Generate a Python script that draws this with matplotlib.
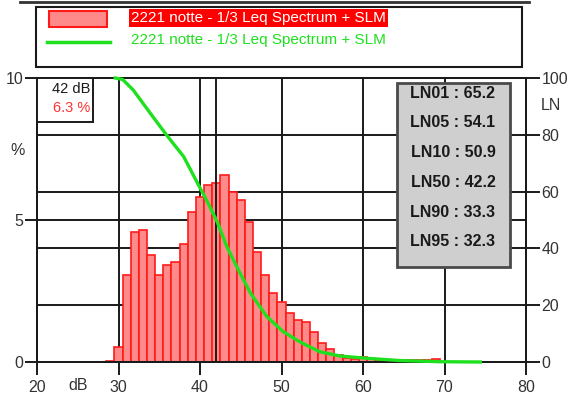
import matplotlib
matplotlib.use('Agg')
import matplotlib.pyplot as plt
from matplotlib.patches import Rectangle
from matplotlib.lines import Line2D

plt.rcParams['font.family'] = ['Liberation Sans', 'DejaVu Sans']

# 1/3 octave level distribution (% of time per 1 dB class)
levels = list(range(29, 70))
percent = [0.03, 0.54, 3.06, 4.59, 4.65, 3.77, 3.06, 3.42, 3.53, 4.15,
           5.29, 5.82, 6.23, 6.3, 6.58, 6.0, 5.70, 4.94, 3.88, 3.06,
           2.44, 2.12, 1.74, 1.48, 1.40, 1.07, 0.68, 0.45, 0.25, 0.15,
           0.12, 0.18, 0.10, 0.08, 0.08, 0.07, 0.07, 0.07, 0.08, 0.08, 0.10]

# cumulative exceedance curve (LN)
cum_db = [29.6, 30.5, 31.8, 33.9, 35.9, 38.0, 39.6, 40.8, 42.1, 43.3, 44.5,
          46.2, 48.2, 50.2, 52.3, 54.7, 57.2, 60.5, 64.6, 69.5, 74.4]
cum_ln = [100, 99.5, 95.8, 87.6, 79.9, 72.3, 63.5, 57.0, 49.4, 40.6, 33.6,
          24.2, 16.0, 10.7, 7.0, 3.6, 2.1, 1.3, 0.5, 0.1, 0]

ln_names = ['LN01', 'LN05', 'LN10', 'LN50', 'LN90', 'LN95']
ln_values = [65.2, 54.1, 50.9, 42.2, 33.3, 32.3]

cursor_db = 42
cursor_pct = 6.3

x_ticks = [20, 30, 40, 50, 60, 70, 80]
pct_ticks = [0, 5, 10]
ln_ticks = [0, 20, 40, 60, 80, 100]
series_label = '2221 notte - 1/3 Leq Spectrum + SLM'

W, H = 569, 398
fig = plt.figure(figsize=(W / 100, H / 100), dpi=100)


def fx(px):
    return px / W


def fy(py):
    return 1 - py / H


ink = '#1a1a1a'
txt = '#333333'
bar_fill = '#ff8a8a'
bar_edge = '#ff1a1a'
green = '#1ee01e'

ax = fig.add_axes([fx(37), fy(362), fx(526) - fx(37), fy(78) - fy(362)])
ax.set_xlim(20, 80)
ax.set_ylim(0, 10)
ax2 = ax.twinx()
ax2.set_ylim(0, 100)

ax.bar(levels, percent, width=1.0, color=bar_fill, edgecolor=bar_edge,
       linewidth=1.2, zorder=2)
ax.axvline(cursor_db, color=ink, linewidth=1.4, zorder=3)
ax2.plot(cum_db, cum_ln, color=green, linewidth=2.4, zorder=3, clip_on=False)

ax.set_xticks(x_ticks)
ax.set_yticks(pct_ticks)
ax.set_yticks([2, 4, 6, 8], minor=True)
ax.set_axisbelow(True)
ax.grid(True, which='both', color=ink, linewidth=1.4)
ax.tick_params(which='minor', length=0)
ax.tick_params(which='major', direction='out', length=9, width=1.4,
               color=ink, labelsize=11.5, labelcolor=txt)
ax.tick_params(axis='x', pad=4)
ax.tick_params(axis='y', pad=1)

ax2.set_yticks(ln_ticks)
ax2.tick_params(axis='y', direction='out', length=10, width=1.4, pad=1,
                color=ink, labelsize=11.5, labelcolor=txt)

for a in (ax, ax2):
    for s in a.spines.values():
        s.set_color(ink)
        s.set_linewidth(1.4)

# axis captions
fig.text(fx(17.5), fy(151), '%', ha='center', va='center', fontsize=11.5, color=txt)
fig.text(fx(551), fy(106), 'LN', ha='center', va='center', fontsize=11.5, color=txt)
fig.text(fx(78.5), fy(386), 'dB', ha='center', va='center', fontsize=11.5, color=txt)

# cursor readout
fig.add_artist(Rectangle((fx(37), fy(122)), fx(93) - fx(37), fy(78) - fy(122),
                         transform=fig.transFigure, facecolor='white',
                         edgecolor=ink, linewidth=1.4))
fig.text(fx(90), fy(89), f'{cursor_db} dB', ha='right', va='center',
         fontsize=10.5, color=ink)
fig.text(fx(90), fy(108), f'{cursor_pct} %', ha='right', va='center',
         fontsize=10.5, color='#ff3030')

# statistical levels box
fig.add_artist(Rectangle((fx(397), fy(267)), fx(510) - fx(397), fy(83) - fy(267),
                         transform=fig.transFigure, facecolor='#cfcfcf',
                         edgecolor='#4a4a4a', linewidth=2))
for i, (name, val) in enumerate(zip(ln_names, ln_values)):
    fig.text(fx(453), fy(93 + 29.8 * i), f'{name} : {val}', ha='center',
             va='center', fontsize=11.5, fontweight='bold', color=ink)

# legend
fig.add_artist(Line2D([fx(20), fx(529)], [fy(1.5), fy(1.5)], transform=fig.transFigure,
                      color='#333333', linewidth=2))
fig.add_artist(Rectangle((fx(36), fy(66.7)), fx(522) - fx(36), fy(6.7) - fy(66.7),
                         transform=fig.transFigure, facecolor='white',
                         edgecolor=ink, linewidth=1.5))
fig.add_artist(Rectangle((fx(49), fy(27)), fx(107) - fx(49), fy(11) - fy(27),
                         transform=fig.transFigure, facecolor=bar_fill,
                         edgecolor=bar_edge, linewidth=1.5))
fig.add_artist(Line2D([fx(47), fx(110)], [fy(41.7), fy(41.7)], transform=fig.transFigure,
                      color=green, linewidth=2.5))
fig.text(fx(131), fy(18), series_label, ha='left', va='center', fontsize=11,
         color='white', bbox=dict(facecolor='#ff0000', edgecolor='none', pad=1.5))
fig.text(fx(131), fy(40), series_label, ha='left', va='center', fontsize=11,
         color=green)

fig.savefig('out.png', dpi=100)
